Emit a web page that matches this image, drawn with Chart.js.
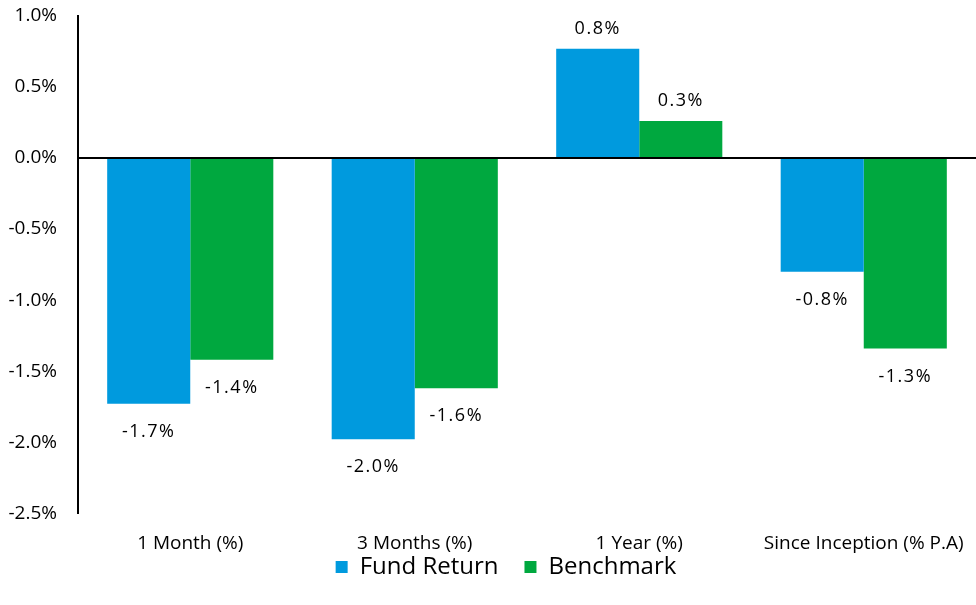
<!DOCTYPE html>
<html>
<head>
<meta charset="utf-8">
<script src="https://cdn.jsdelivr.net/npm/chart.js@4"></script>
<style>
    html, body { margin: 0; padding: 0; background: #fff; }
    #wrap { width: 976px; height: 605px; position: relative; }
</style>
</head>
<body>
<div id="wrap"><canvas id="perfChart"></canvas></div>
<script>
const categories = ['1 Month (%)', '3 Months (%)', '1 Year (%)', 'Since Inception (% P.A)'];
const fundReturn = [-1.73, -1.98, 0.77, -0.80];
const benchmark = [-1.42, -1.62, 0.26, -1.34];

const FONT = '"Open Sans", "Noto Sans", sans-serif';

// draw value labels above/below each bar
const barLabels = {
    id: 'barLabels',
    afterDatasetsDraw(chart) {
        const ctx = chart.ctx;
        ctx.save();
        ctx.font = '18px ' + FONT;
        ctx.letterSpacing = '1.5px';
        ctx.fillStyle = '#000';
        ctx.textAlign = 'center';
        ctx.textBaseline = 'middle';
        chart.data.datasets.forEach((ds, i) => {
            chart.getDatasetMeta(i).data.forEach((bar, j) => {
                const v = ds.data[j];
                const y = v >= 0 ? bar.y - 20 : bar.y + 28;
                ctx.fillText(v.toFixed(1) + '%', bar.x, y);
            });
        });
        ctx.restore();
    }
};

// pull the legend up closer to the category labels
const legendNudge = {
    id: 'legendNudge',
    afterLayout(chart) {
        const lg = chart.legend;
        lg.top -= 45;
        lg.bottom -= 45;
        lg.left += 18;
        lg.right += 18;
    }
};

new Chart(document.getElementById('perfChart'), {
    type: 'bar',
    data: {
        labels: categories,
        datasets: [{
            label: 'Fund Return',
            data: fundReturn,
            backgroundColor: '#009ADE',
            categoryPercentage: 0.74,
            barPercentage: 1.0
        }, {
            label: 'Benchmark',
            data: benchmark,
            backgroundColor: '#00A83F',
            categoryPercentage: 0.74,
            barPercentage: 1.0
        }]
    },
    options: {
        responsive: true,
        maintainAspectRatio: false,
        animation: false,
        layout: { padding: { top: 16, right: 0, bottom: -29, left: 0 } },
        scales: {
            x: {
                afterFit(axis) { axis.paddingLeft = 0; axis.paddingRight = 0; },
                grid: { display: false, drawTicks: false },
                border: { display: false },
                ticks: { color: '#000', padding: 19, font: { family: FONT, size: 19 } }
            },
            y: {
                min: -2.5,
                max: 1,
                afterFit(axis) {
                    axis.width = 78;
                    axis.paddingTop = 0;
                    axis.paddingBottom = 0;
                },
                grid: {
                    drawTicks: false,
                    color: c => c.tick && c.tick.value === 0 ? '#000' : 'rgba(0,0,0,0)',
                    lineWidth: 2
                },
                border: { display: true, color: '#000', width: 2 },
                ticks: {
                    stepSize: 0.5,
                    color: '#000',
                    padding: 21,
                    font: { family: FONT, size: 19 },
                    callback: v => v.toFixed(1) + '%'
                }
            }
        },
        plugins: {
            legend: {
                position: 'bottom',
                labels: {
                    boxWidth: 12,
                    boxHeight: 12,
                    padding: 26,
                    color: '#000',
                    font: { family: FONT, size: 24 }
                }
            },
            tooltip: { enabled: false }
        }
    },
    plugins: [barLabels, legendNudge]
});
</script>
</body>
</html>
